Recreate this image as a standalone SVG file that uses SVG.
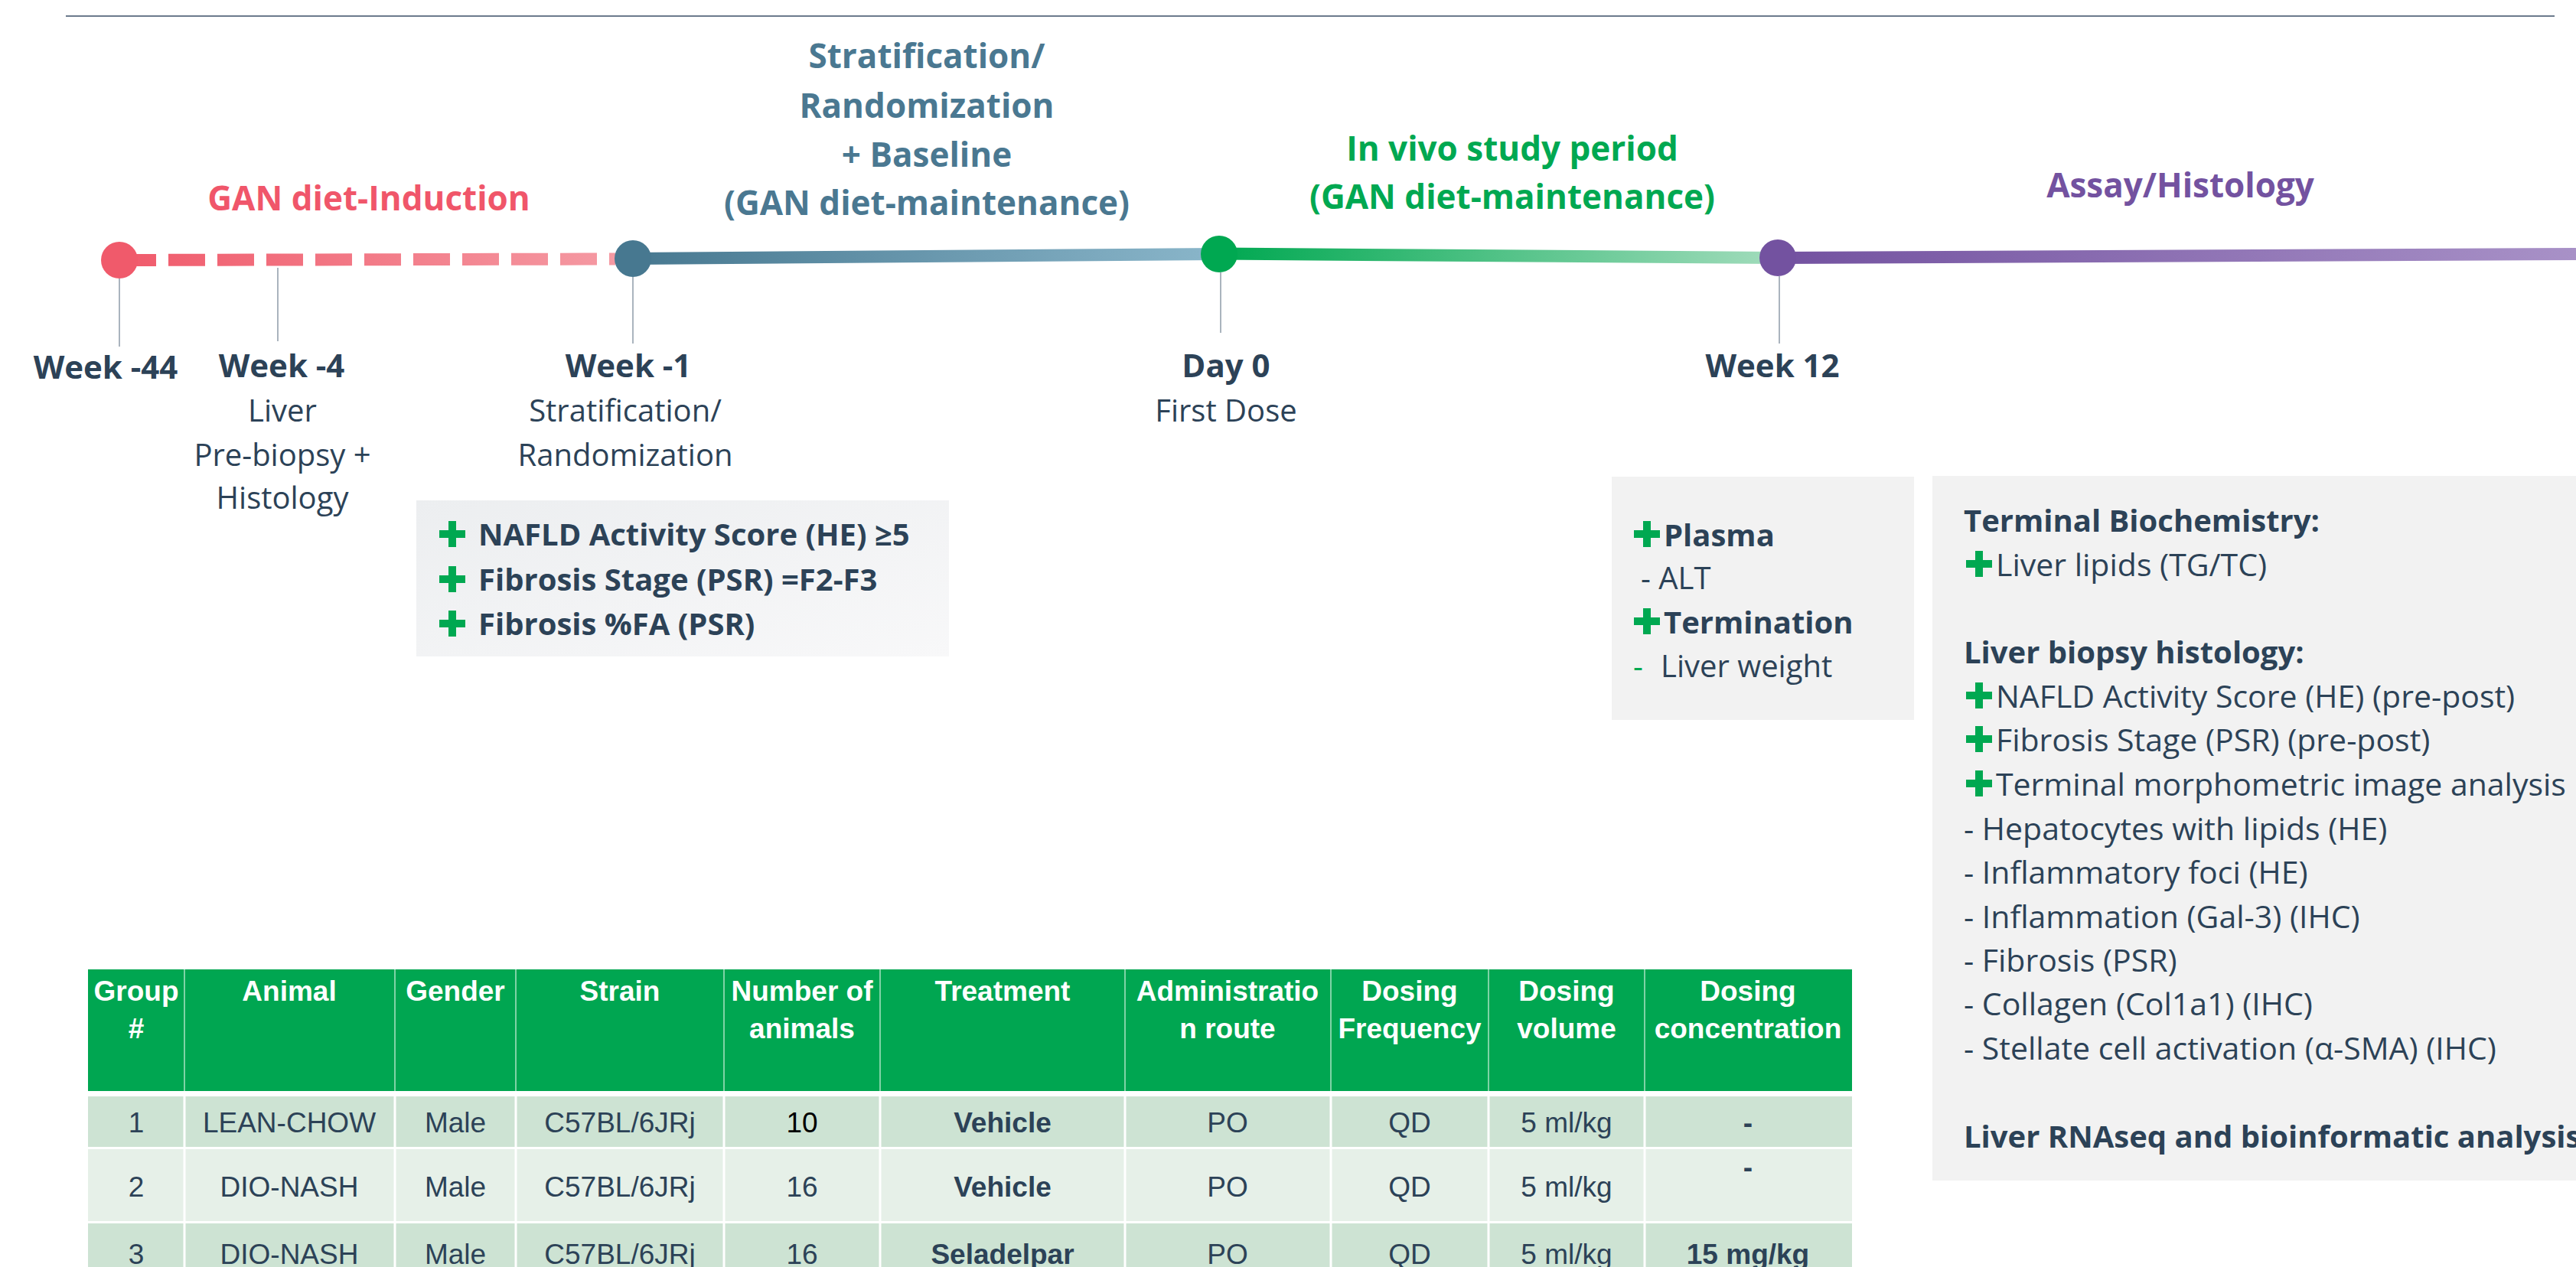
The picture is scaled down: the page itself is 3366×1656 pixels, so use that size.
<svg xmlns="http://www.w3.org/2000/svg" xmlns:xlink="http://www.w3.org/1999/xlink" width="3366" height="1656" viewBox="0 0 3366 1656">
<style>
  .lbl{font-family:"Open Sans","Liberation Sans",sans-serif;font-weight:700;font-size:42px;fill:#2c4257;text-anchor:middle;}
  .sub{font-family:"Open Sans","Liberation Sans",sans-serif;font-size:40px;fill:#2c4257;text-anchor:middle;}
  .phase{font-family:"Open Sans","Liberation Sans",sans-serif;font-weight:700;font-size:44px;text-anchor:middle;}
  .bx{font-family:"Open Sans","Liberation Sans",sans-serif;font-size:40px;fill:#2c4257;}
  .bx3{font-family:"Open Sans","Liberation Sans",sans-serif;font-size:41px;fill:#2c4257;}
  .b{font-weight:700;}
  .tick{stroke:#aab4be;stroke-width:2;fill:none;}
  .th{font-family:"Liberation Sans",Arial,sans-serif;font-weight:700;font-size:37px;fill:#ffffff;text-anchor:middle;}
  .td{font-family:"Liberation Sans",Arial,sans-serif;font-size:37px;fill:#2c4257;text-anchor:middle;}
  .sep{stroke:#ffffff;stroke-width:3;}
  .hsep{stroke:#7fd3a6;stroke-width:2;}
</style>
<defs>
  <linearGradient id="gRed" gradientUnits="userSpaceOnUse" x1="156" y1="0" x2="827" y2="0">
    <stop offset="0" stop-color="#f05a6b"/><stop offset="1" stop-color="#f59ca5"/>
  </linearGradient>
  <linearGradient id="gBlue" gradientUnits="userSpaceOnUse" x1="827" y1="0" x2="1593" y2="0">
    <stop offset="0" stop-color="#477890"/><stop offset="1" stop-color="#8ab6ca"/>
  </linearGradient>
  <linearGradient id="gGreen" gradientUnits="userSpaceOnUse" x1="1593" y1="0" x2="2323" y2="0">
    <stop offset="0" stop-color="#00a851"/><stop offset="1" stop-color="#a2dcbc"/>
  </linearGradient>
  <linearGradient id="gPurple" gradientUnits="userSpaceOnUse" x1="2323" y1="0" x2="3366" y2="0">
    <stop offset="0" stop-color="#7352a0"/><stop offset="1" stop-color="#a891c7"/>
  </linearGradient>
  <linearGradient id="gBox" x1="0" y1="0" x2="1" y2="1">
    <stop offset="0" stop-color="#eceef0"/><stop offset="1" stop-color="#f8f8f9"/>
  </linearGradient>
  <symbol id="plus" viewBox="-17 -17 34 34" width="34" height="34" overflow="visible">
    <rect x="-17" y="-5" width="34" height="10" fill="#00a851"/>
    <rect x="-5" y="-17" width="10" height="34" fill="#00a851"/>
  </symbol>
</defs>

<rect x="0" y="0" width="3366" height="1656" fill="#ffffff"/>
<line x1="86" y1="21" x2="3338" y2="21" stroke="#6b7a8c" stroke-width="2"/>

<g id="connectors">
  <path d="M156 340 L804 338.5" stroke="url(#gRed)" stroke-width="16" stroke-dasharray="48 16" fill="none"/>
  <path d="M827 338 L1593 332" stroke="url(#gBlue)" stroke-width="16" fill="none"/>
  <path d="M1593 331.5 L2323 337" stroke="url(#gGreen)" stroke-width="16" fill="none"/>
  <path d="M2323 337 L3366 332" stroke="url(#gPurple)" stroke-width="16" fill="none"/>
  <line class="tick" x1="156" y1="364" x2="156" y2="453"/>
  <line class="tick" x1="363" y1="350" x2="363" y2="446"/>
  <line class="tick" x1="827" y1="362" x2="827" y2="449"/>
  <line class="tick" x1="1595" y1="356" x2="1595" y2="435"/>
  <line class="tick" x1="2325" y1="361" x2="2325" y2="449"/>
</g>

<g id="m-week-44">
  <circle cx="156" cy="340" r="24" fill="#f05a6b"/>
  <text class="lbl" x="138" y="495">Week -44</text>
</g>
<g id="m-week-4">
  <text class="lbl" x="368" y="493">Week -4</text>
  <text class="sub" x="369" y="551">Liver</text>
  <text class="sub" x="369" y="609">Pre-biopsy +</text>
  <text class="sub" x="369" y="665">Histology</text>
</g>
<g id="m-week-1">
  <circle cx="827" cy="338" r="24" fill="#477890"/>
  <text class="lbl" x="821" y="493">Week -1</text>
  <text class="sub" x="817" y="551">Stratification/</text>
  <text class="sub" x="817" y="609">Randomization</text>
</g>
<g id="m-day0">
  <circle cx="1593" cy="332" r="24" fill="#00a851"/>
  <text class="lbl" x="1602" y="493">Day 0</text>
  <text class="sub" x="1602" y="551">First Dose</text>
</g>
<g id="m-week12">
  <circle cx="2323" cy="337" r="24" fill="#7352a0"/>
  <text class="lbl" x="2316" y="493">Week 12</text>
</g>

<g id="phase-induction">
  <text class="phase" x="482" y="275" fill="#f0566a">GAN diet-Induction</text>
</g>
<g id="phase-strat">
  <text class="phase" x="1211" y="89" fill="#4a7891">Stratification/</text>
  <text class="phase" x="1211" y="154" fill="#4a7891">Randomization</text>
  <text class="phase" x="1211" y="218" fill="#4a7891">+ Baseline</text>
  <text class="phase" x="1211" y="281" fill="#4a7891">(GAN diet-maintenance)</text>
</g>
<g id="phase-invivo">
  <text class="phase" x="1976" y="210" fill="#00a851">In vivo study period</text>
  <text class="phase" x="1976" y="273" fill="#00a851">(GAN diet-maintenance)</text>
</g>
<g id="phase-assay">
  <text class="phase" x="2849" y="258" fill="#7352a0">Assay/Histology</text>
</g>

<g id="box-criteria">
  <rect x="544" y="654" width="696" height="204" fill="url(#gBox)"/>
  <use href="#plus" x="574" y="681"/>
  <use href="#plus" x="574" y="740"/>
  <use href="#plus" x="574" y="798"/>
  <text class="bx b" x="625" y="713">NAFLD Activity Score (HE) ≥5</text>
  <text class="bx b" x="625" y="772">Fibrosis Stage (PSR) =F2-F3</text>
  <text class="bx b" x="625" y="830">Fibrosis %FA (PSR)</text>
</g>

<g id="box-week12">
  <rect x="2106" y="623" width="395" height="318" fill="#f2f2f2"/>
  <use href="#plus" x="2135" y="681"/>
  <use href="#plus" x="2135" y="795"/>
  <text class="bx b" x="2174" y="714">Plasma</text>
  <text class="bx" x="2144" y="770">- ALT</text>
  <text class="bx b" x="2174" y="828">Termination</text>
  <text class="bx" x="2134" y="885" fill="#00a851" style="fill:#00a851">-</text>
  <text class="bx" x="2170" y="885">Liver weight</text>
</g>

<g id="box-assay">
  <rect x="2525" y="622" width="841" height="921" fill="#f2f2f2"/>
  <text class="bx b" x="2566" y="695">Terminal Biochemistry:</text>
  <use href="#plus" x="2569" y="720"/>
  <text class="bx3" x="2608" y="753">Liver lipids (TG/TC)</text>
  <text class="bx b" x="2566" y="867">Liver biopsy histology:</text>
  <use href="#plus" x="2569" y="892"/>
  <text class="bx3" x="2608" y="925">NAFLD Activity Score (HE) (pre-post)</text>
  <use href="#plus" x="2569" y="949"/>
  <text class="bx3" x="2608" y="982">Fibrosis Stage (PSR) (pre-post)</text>
  <use href="#plus" x="2569" y="1007"/>
  <text class="bx3" x="2608" y="1040">Terminal morphometric image analysis</text>
  <text class="bx3" x="2566" y="1098">- Hepatocytes with lipids (HE)</text>
  <text class="bx3" x="2566" y="1155">- Inflammatory foci (HE)</text>
  <text class="bx3" x="2566" y="1213">- Inflammation (Gal-3) (IHC)</text>
  <text class="bx3" x="2566" y="1270">- Fibrosis (PSR)</text>
  <text class="bx3" x="2566" y="1327">- Collagen (Col1a1) (IHC)</text>
  <text class="bx3" x="2566" y="1385">- Stellate cell activation (α-SMA) (IHC)</text>
  <text class="bx b" x="2566" y="1500">Liver RNAseq and bioinformatic analysis</text>
</g>

<g id="table">
  <rect x="115" y="1267" width="2305" height="159" fill="#00a651"/>
  <rect x="115" y="1433" width="2305" height="66" fill="#cde3d3"/>
  <rect x="115" y="1502" width="2305" height="94" fill="#e6f0e8"/>
  <rect x="115" y="1599" width="2305" height="60" fill="#cde3d3"/>
  <g>
    <line class="hsep" x1="241" y1="1267" x2="241" y2="1426"/>
    <line class="hsep" x1="516" y1="1267" x2="516" y2="1426"/>
    <line class="hsep" x1="674" y1="1267" x2="674" y2="1426"/>
    <line class="hsep" x1="946" y1="1267" x2="946" y2="1426"/>
    <line class="hsep" x1="1150" y1="1267" x2="1150" y2="1426"/>
    <line class="hsep" x1="1470" y1="1267" x2="1470" y2="1426"/>
    <line class="hsep" x1="1739" y1="1267" x2="1739" y2="1426"/>
    <line class="hsep" x1="1945" y1="1267" x2="1945" y2="1426"/>
    <line class="hsep" x1="2149" y1="1267" x2="2149" y2="1426"/>
    <line class="sep" x1="241" y1="1433" x2="241" y2="1656"/>
    <line class="sep" x1="516" y1="1433" x2="516" y2="1656"/>
    <line class="sep" x1="674" y1="1433" x2="674" y2="1656"/>
    <line class="sep" x1="946" y1="1433" x2="946" y2="1656"/>
    <line class="sep" x1="1150" y1="1433" x2="1150" y2="1656"/>
    <line class="sep" x1="1470" y1="1433" x2="1470" y2="1656"/>
    <line class="sep" x1="1739" y1="1433" x2="1739" y2="1656"/>
    <line class="sep" x1="1945" y1="1433" x2="1945" y2="1656"/>
    <line class="sep" x1="2149" y1="1433" x2="2149" y2="1656"/>
  </g>
  <g>
    <text class="th" x="178" y="1308">Group</text>
    <text class="th" x="178" y="1357">#</text>
    <text class="th" x="378" y="1308">Animal</text>
    <text class="th" x="595" y="1308">Gender</text>
    <text class="th" x="810" y="1308">Strain</text>
    <text class="th" x="1048" y="1308">Number of</text>
    <text class="th" x="1048" y="1357">animals</text>
    <text class="th" x="1310" y="1308">Treatment</text>
    <text class="th" x="1604" y="1308">Administratio</text>
    <text class="th" x="1604" y="1357">n route</text>
    <text class="th" x="1842" y="1308">Dosing</text>
    <text class="th" x="1842" y="1357">Frequency</text>
    <text class="th" x="2047" y="1308">Dosing</text>
    <text class="th" x="2047" y="1357">volume</text>
    <text class="th" x="2284" y="1308">Dosing</text>
    <text class="th" x="2284" y="1357">concentration</text>
  </g>
  <g>
    <text class="td" x="178" y="1480">1</text>
    <text class="td" x="378" y="1480">LEAN-CHOW</text>
    <text class="td" x="595" y="1480">Male</text>
    <text class="td" x="810" y="1480">C57BL/6JRj</text>
    <text class="td" x="1048" y="1480" style="fill:#000000">10</text>
    <text class="td b" x="1310" y="1480">Vehicle</text>
    <text class="td" x="1604" y="1480">PO</text>
    <text class="td" x="1842" y="1480">QD</text>
    <text class="td" x="2047" y="1480">5 ml/kg</text>
    <text class="td b" x="2284" y="1480">-</text>

    <text class="td" x="178" y="1564">2</text>
    <text class="td" x="378" y="1564">DIO-NASH</text>
    <text class="td" x="595" y="1564">Male</text>
    <text class="td" x="810" y="1564">C57BL/6JRj</text>
    <text class="td" x="1048" y="1564">16</text>
    <text class="td b" x="1310" y="1564">Vehicle</text>
    <text class="td" x="1604" y="1564">PO</text>
    <text class="td" x="1842" y="1564">QD</text>
    <text class="td" x="2047" y="1564">5 ml/kg</text>
    <text class="td b" x="2284" y="1538">-</text>

    <text class="td" x="178" y="1652">3</text>
    <text class="td" x="378" y="1652">DIO-NASH</text>
    <text class="td" x="595" y="1652">Male</text>
    <text class="td" x="810" y="1652">C57BL/6JRj</text>
    <text class="td" x="1048" y="1652">16</text>
    <text class="td b" x="1310" y="1652">Seladelpar</text>
    <text class="td" x="1604" y="1652">PO</text>
    <text class="td" x="1842" y="1652">QD</text>
    <text class="td" x="2047" y="1652">5 ml/kg</text>
    <text class="td b" x="2284" y="1652">15 mg/kg</text>
  </g>
</g>
</svg>
